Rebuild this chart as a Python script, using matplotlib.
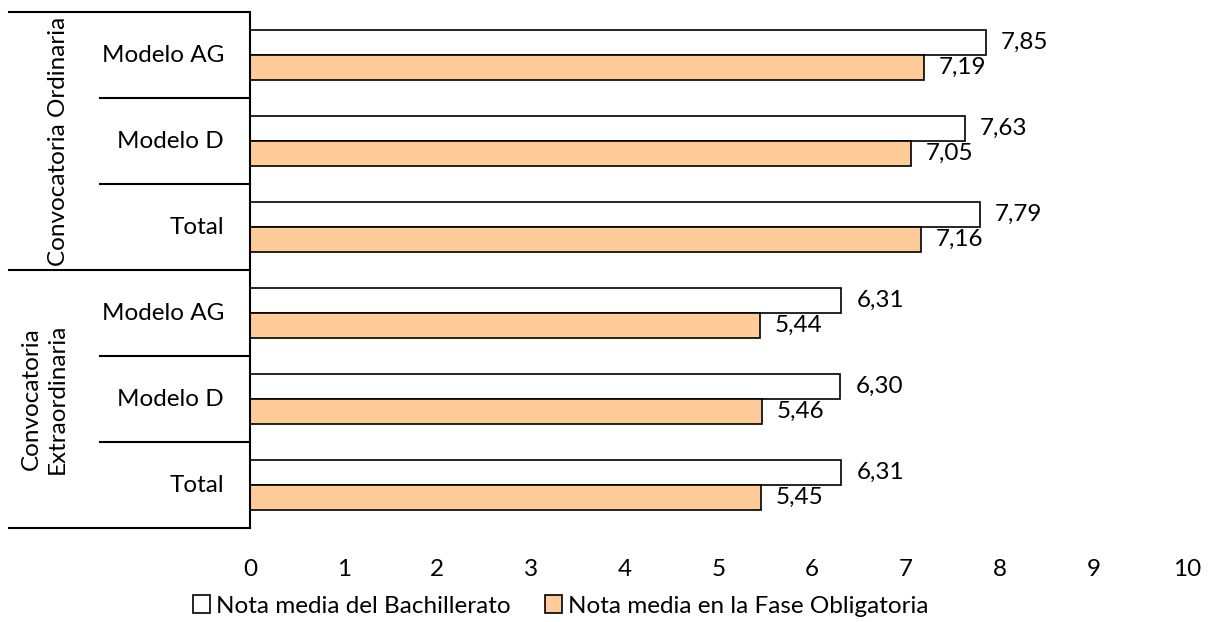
import matplotlib.pyplot as plt
import matplotlib.transforms as mtransforms
from matplotlib.patches import Patch

plt.rcParams['font.family'] = ['Lato', 'DejaVu Sans']

categories = ['Modelo AG', 'Modelo D', 'Total', 'Modelo AG', 'Modelo D', 'Total']
groups = ['Convocatoria Ordinaria', 'Convocatoria\nExtraordinaria']
bachillerato = [7.85, 7.63, 7.79, 6.31, 6.30, 6.31]
fase_obligatoria = [7.19, 7.05, 7.16, 5.44, 5.46, 5.45]
series_names = ['Nota media del Bachillerato', 'Nota media en la Fase Obligatoria']

c_white = '#FFFFFF'
c_orange = '#FFCC99'
fs = 17.5

fig = plt.figure(figsize=(12.13, 6.22), dpi=100)
L, R, T, B = 250 / 1213, 1187 / 1213, 1 - 12 / 622, 1 - 528 / 622
ax = fig.add_axes([L, B, R - L, T - B])

y = list(range(len(categories)))
h = 0.285
off = 0.1425
ax.barh([i - off for i in y], bachillerato, height=h, color=c_white,
        edgecolor='black', linewidth=1.2, label=series_names[0])
ax.barh([i + off for i in y], fase_obligatoria, height=h, color=c_orange,
        edgecolor='black', linewidth=1.2, label=series_names[1])

for i in y:
    ax.annotate(f"{bachillerato[i]:.2f}".replace('.', ','), (bachillerato[i], i - off),
                xytext=(11, 0), textcoords='offset points', va='center', ha='left', fontsize=fs)
    ax.annotate(f"{fase_obligatoria[i]:.2f}".replace('.', ','), (fase_obligatoria[i], i + off),
                xytext=(11, 0), textcoords='offset points', va='center', ha='left', fontsize=fs)

ax.set_xlim(0, 10)
ax.set_ylim(5.5, -0.5)
ax.set_xticks(range(11))
ax.set_yticks([])
ax.tick_params(axis='x', length=0, labelsize=fs, pad=22)
for s in ['top', 'right', 'bottom']:
    ax.spines[s].set_visible(False)
ax.spines['left'].set_linewidth(1.5)

# multi-level category axis
trans = mtransforms.blended_transform_factory(ax.transAxes, ax.transData)
w = R - L
x_outer = (9 / 1213 - L) / w
x_inner = (100 / 1213 - L) / w
for b in [-0.5, 2.5, 5.5]:
    ax.plot([x_outer, 0], [b, b], color='black', lw=1.5, transform=trans, clip_on=False)
for b in [0.5, 1.5, 3.5, 4.5]:
    ax.plot([x_inner, 0], [b, b], color='black', lw=1.5, transform=trans, clip_on=False)

for i, c in enumerate(categories):
    ax.text(-26 / 937, i, c, transform=trans, ha='right', va='center', fontsize=fs)

ax.text((58 / 1213 - L) / w, 1.0, groups[0], transform=trans, rotation=90,
        ha='center', va='center', fontsize=fs)
ax.text((44 / 1213 - L) / w, 4.0, groups[1], transform=trans, rotation=90,
        ha='center', va='center', fontsize=fs, multialignment='center', linespacing=1.3)

handles = [Patch(facecolor=c_white, edgecolor='black', linewidth=1.2),
           Patch(facecolor=c_orange, edgecolor='black', linewidth=1.2)]
fig.legend(handles, series_names, loc='center', bbox_to_anchor=(561 / 1213, 1 - 606 / 622),
           ncol=2, frameon=False, fontsize=fs, handlelength=0.7, handleheight=0.7,
           handletextpad=0.25, columnspacing=1.4, borderpad=0)

plt.savefig('out.png', dpi=100)
